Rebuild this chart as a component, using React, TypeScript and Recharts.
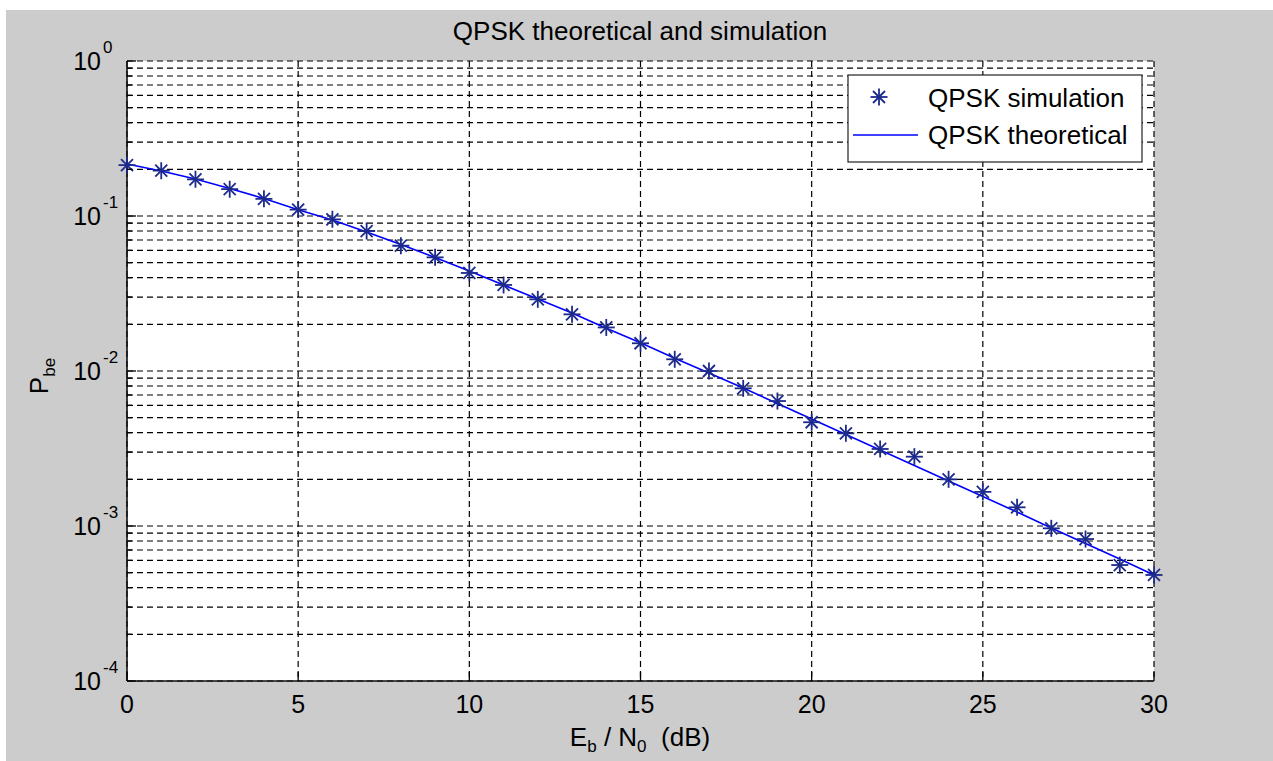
import React from "react";
import { LineChart, Line, XAxis, YAxis, CartesianGrid } from "recharts";

// Eb/N0 in dB
const ebn0 = [0, 1, 2, 3, 4, 5, 6, 7, 8, 9, 10, 11, 12, 13, 14, 15, 16, 17, 18, 19, 20, 21, 22, 23, 24, 25, 26, 27, 28, 29, 30];

// simulated bit error probability
const simPbe = [
  0.213, 0.196, 0.1725, 0.149, 0.129, 0.11, 0.0952, 0.08, 0.0643, 0.0541,
  0.0429, 0.0359, 0.029, 0.0232, 0.0191, 0.0151, 0.0119, 0.01, 0.00773, 0.0064,
  0.00467, 0.00396, 0.00314, 0.0028, 0.002, 0.00166, 0.00132, 0.000966, 0.000824, 0.00056,
  0.000483,
];

// theoretical bit error probability
const theoryPbe = [
  0.2166, 0.1951, 0.1733, 0.1504, 0.1297, 0.1098, 0.0942, 0.0788, 0.0655, 0.054,
  0.0442, 0.0359, 0.0291, 0.0237, 0.0189, 0.0152, 0.0121, 0.00971, 0.00777, 0.00617,
  0.0049, 0.00389, 0.00309, 0.00246, 0.00195, 0.00155, 0.00123, 0.000971, 0.000771, 0.000612,
  0.000483,
];

const xTicks = [0, 5, 10, 15, 20, 25, 30];

// log axis ticks: decades plus the 2..9 minor steps
const yTicks = [
  0.0001, 0.0002, 0.0003, 0.0004, 0.0005, 0.0006, 0.0007, 0.0008, 0.0009,
  0.001, 0.002, 0.003, 0.004, 0.005, 0.006, 0.007, 0.008, 0.009,
  0.01, 0.02, 0.03, 0.04, 0.05, 0.06, 0.07, 0.08, 0.09,
  0.1, 0.2, 0.3, 0.4, 0.5, 0.6, 0.7, 0.8, 0.9,
  1,
];

const data = ebn0.map((x, i) => ({ x, sim: simPbe[i], theory: theoryPbe[i] }));

const FONT = "'Liberation Sans', Arial, Helvetica, sans-serif";
const FS = 26;
const SUB = 17;
const MARKER = "#1c2a8c";
const LINE = "#0000ff";

const YTick = (props: any) => {
  const { x, y, payload } = props;
  const e = Math.log10(payload.value);
  const major = Math.abs(e - Math.round(e)) < 1e-6;
  return (
    <g>
      <line x1={x} x2={x + (major ? 9 : 5)} y1={y} y2={y} stroke="#000" strokeWidth={1.3} />
      {major && (
        <text fontFamily={FONT} fill="#000">
          <tspan x={x - 26} y={y + 9} fontSize={25} textAnchor="end">10</tspan>
          <tspan x={x - 24} y={y - 8} fontSize={SUB} textAnchor="start">{Math.round(e)}</tspan>
        </text>
      )}
    </g>
  );
};

const XTick = (props: any) => {
  const { x, y, payload } = props;
  return (
    <g>
      <line x1={x} x2={x} y1={y} y2={y - 9} stroke="#000" strokeWidth={1.3} />
      <text x={x} y={y + 32} textAnchor="middle" fontSize={25} fontFamily={FONT} fill="#000">
        {payload.value}
      </text>
    </g>
  );
};

const Star = (props: any) => {
  const { cx, cy } = props;
  if (cx == null || cy == null) return null;
  return (
    <g stroke={MARKER} strokeWidth={1.8}>
      <line x1={cx} y1={cy - 8.5} x2={cx} y2={cy + 8.5} />
      <line x1={cx - 8.5} y1={cy} x2={cx + 8.5} y2={cy} />
      <line x1={cx - 6} y1={cy - 6} x2={cx + 6} y2={cy + 6} />
      <line x1={cx - 6} y1={cy + 6} x2={cx + 6} y2={cy - 6} />
    </g>
  );
};

const XLabel = () => (
  <text x={640} y={746} textAnchor="middle" fontSize={FS} fontFamily={FONT} fill="#000" style={{ whiteSpace: "pre" }}>
    <tspan>E</tspan>
    <tspan dy={6} fontSize={SUB}>b</tspan>
    <tspan dy={-6}>{" / N"}</tspan>
    <tspan dy={6} fontSize={SUB}>0</tspan>
    <tspan dy={-6}>{"  (dB)"}</tspan>
  </text>
);

const YLabel = () => (
  <text x={48} y={376} transform="rotate(-90, 48, 376)" textAnchor="middle" fontSize={FS} fontFamily={FONT} fill="#000">
    <tspan>P</tspan>
    <tspan dy={7} fontSize={SUB}>be</tspan>
  </text>
);

const LegendBox = () => (
  <g fontFamily={FONT} fontSize={FS} fill="#000">
    <rect x={848} y={75} width={294} height={87} fill="#fff" stroke="#222" strokeWidth={1.2} />
    <Star cx={879} cy={97} />
    <text x={928} y={107}>QPSK simulation</text>
    <line x1={853} x2={918} y1={135} y2={135} stroke={LINE} strokeWidth={1.6} />
    <text x={928} y={144}>QPSK theoretical</text>
  </g>
);

export default function App() {
  return (
    <div style={{ position: "absolute", left: 0, top: 0, width: 1273, height: 761, background: "#fff" }}>
      <div style={{ position: "absolute", left: 6, top: 10, width: 1267, height: 751, background: "#cccccc" }} />
      <div style={{ position: "absolute", left: 0, top: 0 }}>
        <LineChart width={1273} height={761} data={data} margin={{ top: 61, right: 119, bottom: 0, left: 0 }}>
          <CartesianGrid fill="#fff" fillOpacity={1} stroke="#000" strokeWidth={1.2} strokeDasharray="6 4" />
          <XAxis
            dataKey="x"
            type="number"
            domain={[0, 30]}
            ticks={xTicks}
            interval={0}
            height={80}
            tickSize={0}
            tickMargin={0}
            tickLine={false}
            tick={<XTick />}
            axisLine={{ stroke: "#111", strokeWidth: 1.6 }}
          />
          <YAxis
            type="number"
            scale="log"
            domain={[0.0001, 1]}
            allowDataOverflow
            ticks={yTicks}
            interval={0}
            width={127}
            tickSize={0}
            tickMargin={0}
            tickLine={false}
            tick={<YTick />}
            axisLine={{ stroke: "#111", strokeWidth: 1.6 }}
          />
          <Line dataKey="sim" stroke="none" dot={<Star />} activeDot={false} isAnimationActive={false} />
          <Line dataKey="theory" stroke={LINE} strokeWidth={1.6} dot={false} activeDot={false} isAnimationActive={false} />
          <text x={640} y={40} textAnchor="middle" fontSize={FS} fontFamily={FONT} fill="#000">
            QPSK theoretical and simulation
          </text>
          <XLabel />
          <YLabel />
          <LegendBox />
        </LineChart>
      </div>
    </div>
  );
}
